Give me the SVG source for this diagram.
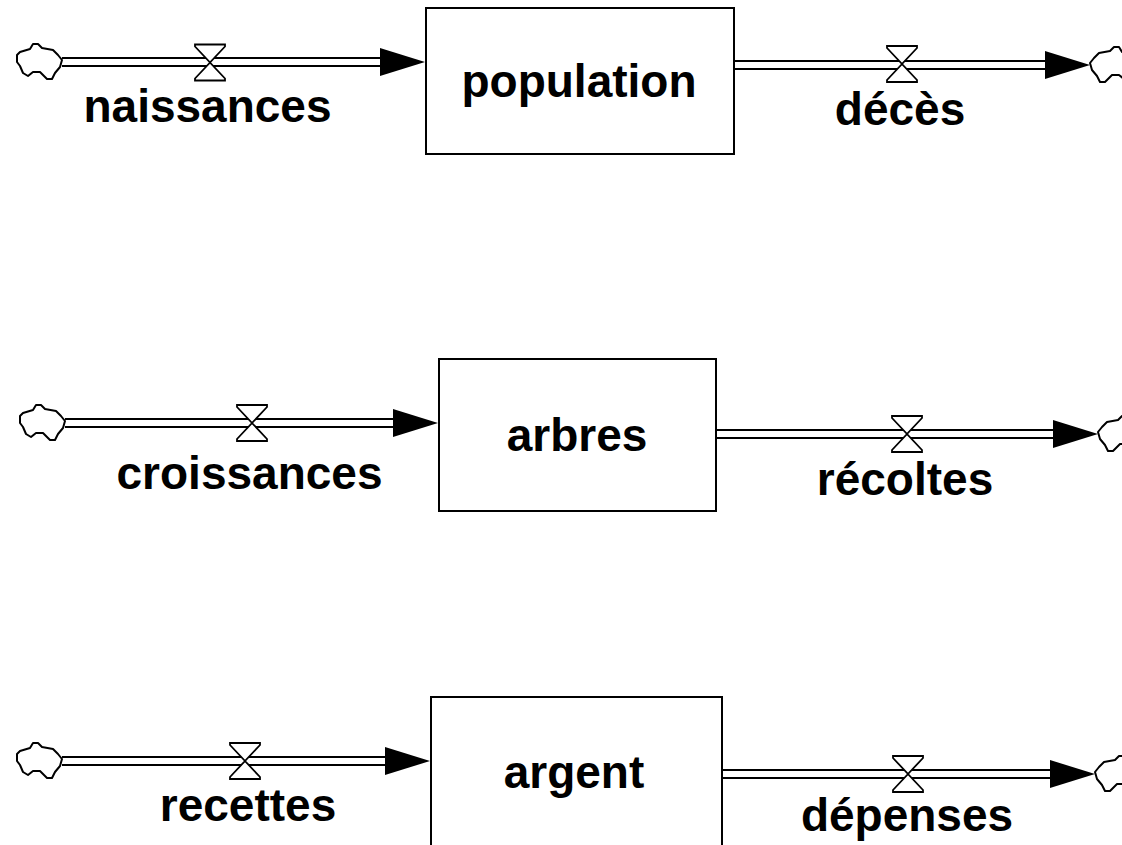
<svg xmlns="http://www.w3.org/2000/svg" width="1122" height="845" viewBox="0 0 1122 845">
  <style>
    .stock { fill: #ffffff; stroke: #000000; stroke-width: 2; }
    .pipe { fill: none; stroke: #000000; stroke-width: 2; }
    .head { fill: #000000; stroke: none; }
    .valve { fill: #ffffff; stroke: #000000; stroke-width: 1.8; stroke-linejoin: miter; }
    .cloud { fill: #ffffff; stroke: #000000; stroke-width: 2; stroke-linejoin: round; }
    .lbl { font-family: "Liberation Sans", Arial, sans-serif; font-weight: bold; font-size: 46px; fill: #000000; text-anchor: middle; }
  </style>
  <defs>
    <!-- cloud (source/sink), anchored where the pipe touches it, body to the left -->
    <path id="cloud" class="cloud" d="M0,-2 L-4,-7 L-9,-12 L-20,-14 L-24,-18 L-29,-18 L-32,-13 L-42,-10 L-45,-7 L-45,0 L-42,4 L-39,11 L-34,14 L-29,10 L-22,10 L-15,17 L-10,17 L-7,11 L-2,5 Z"/>
    <!-- valve (hourglass), centred on the pipe -->
    <path id="valve" class="valve" d="M-15,-18 L15,-18 L15,-16 L0,0 L15,16 L15,18 L-15,18 L-15,16 L0,0 L-15,-16 Z"/>
    <!-- flow arrowhead, tip at origin -->
    <polygon id="head" class="head" points="0,0 -45,-14 -45,14"/>
  </defs>

  <!-- flows -->
  <g id="connectors">
    <!-- naissances -> population -->
    <g id="flow-naissances">
      <line class="pipe" x1="62" y1="58" x2="384" y2="58"/>
      <line class="pipe" x1="62" y1="66" x2="384" y2="66"/>
      <use href="#head" x="425" y="62"/>
      <use href="#cloud" x="62" y="62"/>
      <use href="#valve" x="210" y="62.5"/>
    </g>
    <!-- population -> décès -->
    <g id="flow-deces">
      <line class="pipe" x1="735" y1="61" x2="1050" y2="61"/>
      <line class="pipe" x1="735" y1="69" x2="1050" y2="69"/>
      <use href="#head" x="1090" y="65"/>
      <use href="#cloud" transform="translate(1090,65) scale(-1,1)"/>
      <use href="#valve" x="902" y="64"/>
    </g>
    <!-- croissances -> arbres -->
    <g id="flow-croissances">
      <line class="pipe" x1="65" y1="419" x2="398" y2="419"/>
      <line class="pipe" x1="65" y1="427" x2="398" y2="427"/>
      <use href="#head" x="438" y="423"/>
      <use href="#cloud" x="65" y="423"/>
      <use href="#valve" x="252" y="423"/>
    </g>
    <!-- arbres -> récoltes -->
    <g id="flow-recoltes">
      <line class="pipe" x1="717" y1="430" x2="1058" y2="430"/>
      <line class="pipe" x1="717" y1="438" x2="1058" y2="438"/>
      <use href="#head" x="1098" y="434"/>
      <use href="#cloud" transform="translate(1098,434) scale(-1,1)"/>
      <use href="#valve" x="907" y="434"/>
    </g>
    <!-- recettes -> argent -->
    <g id="flow-recettes">
      <line class="pipe" x1="62" y1="757" x2="390" y2="757"/>
      <line class="pipe" x1="62" y1="765" x2="390" y2="765"/>
      <use href="#head" x="430" y="761"/>
      <use href="#cloud" x="62" y="761"/>
      <use href="#valve" x="245" y="761"/>
    </g>
    <!-- argent -> dépenses -->
    <g id="flow-depenses">
      <line class="pipe" x1="723" y1="770" x2="1054" y2="770"/>
      <line class="pipe" x1="723" y1="778" x2="1054" y2="778"/>
      <use href="#head" x="1095" y="774"/>
      <use href="#cloud" transform="translate(1095,774) scale(-1,1)"/>
      <use href="#valve" x="908" y="774"/>
    </g>
  </g>

  <!-- stocks -->
  <g id="population">
    <rect class="stock" x="426" y="8" width="308" height="146"/>
    <text class="lbl" x="579" y="97">population</text>
  </g>
  <g id="arbres">
    <rect class="stock" x="439" y="359" width="277" height="152"/>
    <text class="lbl" x="577" y="451">arbres</text>
  </g>
  <g id="argent">
    <rect class="stock" x="431" y="697" width="291" height="170"/>
    <text class="lbl" x="574" y="788">argent</text>
  </g>

  <!-- flow labels -->
  <g id="label-naissances"><text class="lbl" x="207.5" y="122">naissances</text></g>
  <g id="label-deces"><text class="lbl" x="900" y="125">décès</text></g>
  <g id="label-croissances"><text class="lbl" x="249.5" y="489">croissances</text></g>
  <g id="label-recoltes"><text class="lbl" x="905" y="495">récoltes</text></g>
  <g id="label-recettes"><text class="lbl" x="248" y="821">recettes</text></g>
  <g id="label-depenses"><text class="lbl" x="907" y="831">dépenses</text></g>
</svg>
